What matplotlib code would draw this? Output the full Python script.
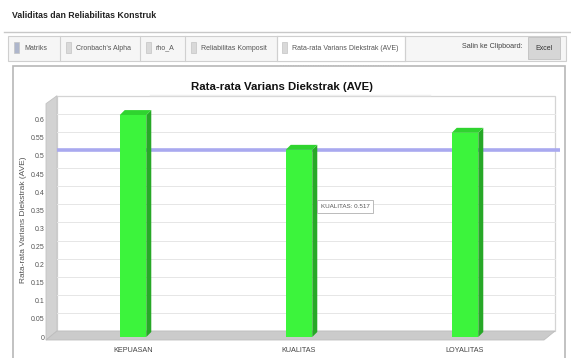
import matplotlib
matplotlib.use("Agg")
import matplotlib.pyplot as plt
from matplotlib.patches import Rectangle, Polygon
import numpy as np

plt.rcParams['font.family'] = ['Liberation Sans', 'DejaVu Sans']

# ---- data ----
categories = ["KEPUASAN", "KUALITAS", "LOYALITAS"]
ave_values = [0.613, 0.517, 0.564]
threshold = 0.50
y_ticks = [0, 0.05, 0.1, 0.15, 0.2, 0.25, 0.3, 0.35, 0.4, 0.45, 0.5, 0.55, 0.6]
y_tick_labels = ["0", "0.05", "0.1", "0.15", "0.2", "0.25", "0.3", "0.35",
                 "0.4", "0.45", "0.5", "0.55", "0.6"]
tab_labels = ["Matriks", "Cronbach's Alpha", "rho_A", "Reliabilitas Komposit",
              "Rata-rata Varians Diekstrak (AVE)"]
window_title = "Validitas dan Reliabilitas Konstruk"
chart_title = "Rata-rata Varians Diekstrak (AVE)"
tooltip_index = 1

W, H = 571, 358
fig = plt.figure(figsize=(W / 100, H / 100), dpi=100)
fig.patch.set_facecolor("white")

# background canvas in pixel units (origin top-left)
bg = fig.add_axes([0, 0, 1, 1])
bg.set_xlim(0, W)
bg.set_ylim(H, 0)
bg.axis("off")

# window header
bg.text(12, 16, window_title, fontsize=6.3, fontweight="bold", color="#222222",
        va="center", ha="left")
bg.plot([4, W], [32, 32], color="#c8c8c8", lw=1)

# tab strip
bg.add_patch(Rectangle((8, 36), 558, 25, facecolor="#f6f6f6", edgecolor="#cfcfcf", lw=0.8))
bg.add_patch(Rectangle((277, 36), 128, 25, facecolor="white", edgecolor="#cfcfcf", lw=0.8))
tab_x = [12, 64, 144, 189, 280]
tab_sep = [60, 140, 185, 277, 405]
for i, (tx, lab) in enumerate(zip(tab_x, tab_labels)):
    icon_col = "#aeb6cc" if i == 0 else "#d9d9d9"
    bg.add_patch(Rectangle((tx + 2, 42), 5, 11, facecolor=icon_col, edgecolor="#c4c4c4", lw=0.5))
    bg.text(tx + 12, 48, lab, fontsize=5.0, color="#555555", va="center", ha="left")
for sx in tab_sep:
    bg.plot([sx, sx], [36, 61], color="#d0d0d0", lw=0.8)
bg.plot([280, 400], [65, 65], color="#bbbbbb", lw=0.6, ls=(0, (1, 2)))
bg.text(523, 47, "Salin ke Clipboard:", fontsize=5.2, color="#444444",
        va="center", ha="right")
bg.add_patch(Rectangle((528, 37), 32, 22, facecolor="#d6d6d6", edgecolor="#c0c0c0", lw=0.6))
bg.text(544, 48, "Excel", fontsize=5.0, color="#333333", va="center", ha="center")

# chart panel frame
bg.add_patch(Rectangle((13, 66), 552, 300, facecolor="white", edgecolor="#b8b8b8", lw=1.2))
bg.text(282, 87, chart_title, fontsize=8.2, fontweight="bold", color="#111111",
        va="center", ha="center")
bg.plot([150, 430], [95, 95], color="#eeeeee", lw=1)

# ---- plot geometry (front plane) ----
left_px, right_px = 50, 548
bottom_px = 337
ymax = 0.65
px_per_unit = 362
top_px = bottom_px - ymax * px_per_unit
depth_x, depth_y = 7, 6   # wall depth in pixels

# 3D walls
bg.add_patch(Rectangle((left_px + depth_x, top_px - depth_y), right_px - left_px,
                       bottom_px - top_px, facecolor="white", edgecolor="#d4d4d4", lw=0.9))
bg.add_patch(Polygon([(left_px - 4, top_px + 2), (left_px + depth_x, top_px - depth_y),
                      (left_px + depth_x, bottom_px - depth_y), (left_px - 4, bottom_px + 3)],
                     closed=True, facecolor="#d2d2d2", edgecolor="#c2c2c2", lw=0.6))
bg.add_patch(Polygon([(left_px - 4, bottom_px + 3), (left_px + depth_x, bottom_px - depth_y),
                      (right_px + depth_x, bottom_px - depth_y), (right_px - 4, bottom_px + 3)],
                     closed=True, facecolor="#cbcbcb", edgecolor="#bdbdbd", lw=0.6))

ax = fig.add_axes([left_px / W, 1 - bottom_px / H, (right_px - left_px) / W,
                   (bottom_px - top_px) / H])
ax.set_xlim(-0.5, len(categories) - 0.5)
ax.set_ylim(0, ymax)
ax.patch.set_alpha(0)
for s in ax.spines.values():
    s.set_visible(False)

x = np.arange(len(categories))
px_per_x = (right_px - left_px) / len(categories)
dx = depth_x / px_per_x
dy = depth_y / px_per_unit

# back-wall grid lines and threshold line
for t in y_ticks[1:]:
    ax.plot([-0.5 + dx, len(categories) - 0.5 + dx], [t + dy, t + dy],
            color="#e6e6e6", lw=0.7, zorder=1, clip_on=False)
ax.plot([-0.5 + dx, len(categories) - 0.5 + dx + 0.03], [threshold + dy, threshold + dy],
        color="#a9a9ef", lw=2.6, zorder=2, clip_on=False, solid_capstyle="butt")

# 3D bars
bw = 0.16
bdx = 5 / px_per_x
bdy = 5 / px_per_unit
for xi, v in zip(x, ave_values):
    ax.add_patch(Polygon([(xi + bw / 2, 0), (xi + bw / 2 + bdx, bdy),
                          (xi + bw / 2 + bdx, v + bdy), (xi + bw / 2, v)],
                         closed=True, facecolor="#27a827", edgecolor="none",
                         zorder=3, clip_on=False))
    ax.add_patch(Polygon([(xi - bw / 2, v), (xi + bw / 2, v),
                          (xi + bw / 2 + bdx, v + bdy), (xi - bw / 2 + bdx, v + bdy)],
                         closed=True, facecolor="#2fd42f", edgecolor="none",
                         zorder=3, clip_on=False))
ax.bar(x, ave_values, width=bw, color="#3cf43c", edgecolor="none", zorder=4)

# hover tooltip
tv = ave_values[tooltip_index]
ax.text(tooltip_index + 0.13, 0.36, f"{categories[tooltip_index]}: {tv:.3f}",
        fontsize=4.5, color="#555555", va="center", ha="left", zorder=6,
        bbox=dict(boxstyle="square,pad=0.6", facecolor="white", edgecolor="#b0b0b0", lw=0.6))

# axes text
ax.set_xticks(x)
ax.set_xticklabels(categories, fontsize=5.2, color="#444444")
ax.set_yticks(y_ticks)
ax.set_yticklabels(y_tick_labels, fontsize=5, color="#555555")
ax.tick_params(axis="y", length=0, pad=4)
ax.tick_params(axis="x", length=0, pad=7)
ax.set_ylabel(chart_title, fontsize=6.0, color="#555555", labelpad=3)

fig.savefig("out.png", dpi=100)
